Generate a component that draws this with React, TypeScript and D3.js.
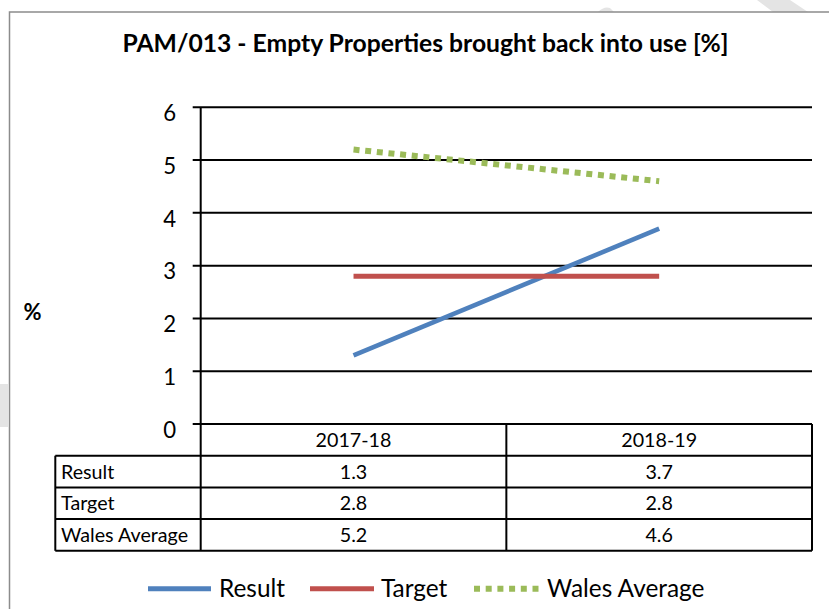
import React from "react";
import * as d3 from "d3";

const categories = ["2017-18", "2018-19"];
const seriesNames = ["Result", "Target", "Wales Average"];
const resultValues = [1.3, 3.7];
const targetValues = [2.8, 2.8];
const walesValues = [5.2, 4.6];
const yTicks = [0, 1, 2, 3, 4, 5, 6];
const titleText = "PAM/013 - Empty Properties brought back into use [%]";
const yAxisTitle = "%";

const colors = ["#4F81BD", "#C0504D", "#9BBB59"];
const FONT = "Lato, 'Noto Sans', sans-serif";

export default function App() {
  const W = 829, H = 609;
  const left = 200.7, right = 812, top = 107.3, bottom = 424;
  const rowH = 31.7;
  const tableLeft = 55.3;
  const y = d3.scaleLinear().domain([0, 6]).range([bottom, top]);
  const x = d3.scaleBand<string>().domain(categories).range([left, right]).padding(0);
  const cx = (c: string) => (x(c) as number) + x.bandwidth() / 2;
  const series = [resultValues, targetValues, walesValues];
  const line = d3.line<number>().x((_, i) => cx(categories[i])).y((v) => y(v));

  const legendItems = [
    { x1: 148, x2: 211, tx: 219 },
    { x1: 310, x2: 374, tx: 381 },
    { x1: 474, x2: 539, tx: 547 },
  ];
  const legendY = 588.7;
  const tableFont = 19.7;

  return (
    <svg width={W} height={H} style={{ position: "absolute", left: 0, top: 0, background: "#fff" }} fontFamily={FONT}>
      {/* faint background watermark shapes */}
      <g fill="#e4e4e4">
        <polygon points="757,0 790,0 808,12 773,12" />
        <path d="M598,12 Q604,6 610,8 L614,12 Z" />
        <rect x={0} y={384} width={8} height={43} />
      </g>
      <rect x={9.5} y={12} width={900} height={700} fill="#fff" stroke="#8c8c8c" strokeWidth={1.5} />

      <text x={425.5} y={52} textAnchor="middle" fontWeight="bold" fontSize={24.7} fill="#000">{titleText}</text>

      {/* gridlines & ticks */}
      {yTicks.map((t) => (
        <g key={t}>
          <line x1={left - 8} x2={t === 0 ? left : right} y1={y(t)} y2={y(t)} stroke="#000" strokeWidth={2} />
          <text x={176} y={y(t) + 13.8} textAnchor="end" fontSize={22.2} fill="#000">{t}</text>
        </g>
      ))}
      <text x={32.5} y={320} textAnchor="middle" fontWeight="bold" fontSize={22} fill="#000">{yAxisTitle}</text>

      {/* data table */}
      <g stroke="#000" strokeWidth={2} fill="none">
        <line x1={left} x2={right} y1={bottom} y2={bottom} />
        {seriesNames.map((_, i) => (
          <line key={i} x1={tableLeft} x2={right} y1={bottom + rowH * (i + 1)} y2={bottom + rowH * (i + 1)} />
        ))}
        <line x1={tableLeft} x2={right} y1={bottom + rowH * 4} y2={bottom + rowH * 4} />
        <line x1={tableLeft} x2={tableLeft} y1={bottom + rowH} y2={bottom + rowH * 4} />
        <line x1={left} x2={left} y1={top} y2={bottom + rowH * 4} />
        {categories.map((c) => (
          <line key={c} x1={(x(c) as number) + x.bandwidth()} x2={(x(c) as number) + x.bandwidth()} y1={bottom} y2={bottom + rowH * 4} />
        ))}
      </g>
      {categories.map((c) => (
        <text key={c} x={cx(c)} y={bottom + rowH / 2 + 7} textAnchor="middle" fontSize={tableFont} fill="#000">{c}</text>
      ))}
      {seriesNames.map((s, i) => (
        <g key={s}>
          <text x={61} y={bottom + rowH * (i + 1) + rowH / 2 + 7} fontSize={tableFont} fill="#000">{s}</text>
          {categories.map((c, j) => (
            <text key={c} x={cx(c)} y={bottom + rowH * (i + 1) + rowH / 2 + 7} textAnchor="middle" fontSize={tableFont} fill="#000">
              {series[i][j].toFixed(1)}
            </text>
          ))}
        </g>
      ))}

      {/* series lines */}
      <path d={line(resultValues) as string} stroke={colors[0]} strokeWidth={4.6} fill="none" />
      <path d={line(targetValues) as string} stroke={colors[1]} strokeWidth={5} fill="none" />
      <path d={line(walesValues) as string} stroke={colors[2]} strokeWidth={6} strokeDasharray="6 5.7" fill="none" />

      {/* legend */}
      {seriesNames.map((s, i) => (
        <g key={s}>
          <line x1={legendItems[i].x1} x2={legendItems[i].x2} y1={legendY} y2={legendY}
            stroke={colors[i]} strokeWidth={i === 2 ? 6 : 5} strokeDasharray={i === 2 ? "6 5.7" : undefined} />
          <text x={legendItems[i].tx} y={597} fontSize={24.4} fill="#000">{s}</text>
        </g>
      ))}
    </svg>
  );
}
